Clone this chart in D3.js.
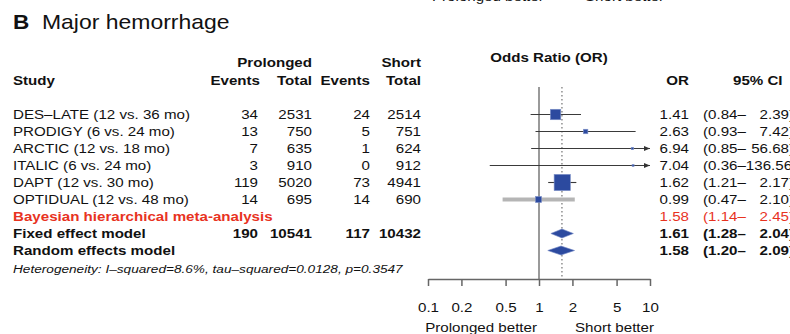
<!DOCTYPE html>
<html>
<head>
<meta charset="utf-8">
<script src="https://cdn.jsdelivr.net/npm/d3@7"></script>
<style>
  html, body { margin: 0; padding: 0; background: #fff; }
  svg { display: block; font-family: "Liberation Sans", Arial, sans-serif; }
</style>
</head>
<body>
<svg id="chart" width="790" height="334"></svg>
<script>
// Major hemorrhage: prolonged vs. short DAPT, per-study odds ratios
const studies = [
  "DES\u2013LATE (12 vs. 36 mo)",
  "PRODIGY (6 vs. 24 mo)",
  "ARCTIC (12 vs. 18 mo)",
  "ITALIC (6 vs. 24 mo)",
  "DAPT (12 vs. 30 mo)",
  "OPTIDUAL (12 vs. 48 mo)"
];
const eventsProlonged = [34, 13, 7, 3, 119, 14];
const totalProlonged  = [2531, 750, 635, 910, 5020, 695];
const eventsShort     = [24, 5, 1, 0, 73, 14];
const totalShort      = [2514, 751, 624, 912, 4941, 690];
const oddsRatio = [1.41, 2.63, 6.94, 7.04, 1.62, 0.99];
const ciLower   = [0.84, 0.93, 0.85, 0.36, 1.21, 0.47];
const ciUpper   = [2.39, 7.42, 56.68, 136.56, 2.17, 2.10];
const weightPct = [24.8, 4.6, 1.3, 0.9, 60.0, 8.4];

const pooledNames = ["Bayesian hierarchical meta-analysis", "Fixed effect model", "Random effects model"];
const pooledOR    = [1.58, 1.61, 1.58];
const pooledLower = [1.14, 1.28, 1.20];
const pooledUpper = [2.45, 2.04, 2.09];
const pooledDiamond = [false, true, true];
const totalsRow = { eventsProlonged: 190, totalProlonged: 10541, eventsShort: 117, totalShort: 10432 };

const axisTicks = [0.1, 0.2, 0.5, 1, 2, 5, 10];
const axisTickLabels = ["0.1", "0.2", "0.5", "1", "2", "5", "10"];
const heterogeneityText = "Heterogeneity: I\u2013squared=8.6%, tau\u2013squared=0.0128, p=0.3547";

// ---- layout ----
const svg = d3.select("#chart");
const FS = 13.5, SX = 1.12;
const RED = "#e8331f", BLUE = "#2c4a9f";
const x = d3.scaleLog().domain([0.1, 10]).range([428, 650]);
const rowY = i => 114.5 + 17 * i;
const plotTop = 87, axisY = 279;
const fmt2 = d3.format(".2f");

function txt(px, py, s, o = {}) {
  const sx = o.sx || SX;
  const t = svg.append("text")
    .attr("transform", `translate(${px},${py}) scale(${sx},1)`)
    .attr("text-anchor", o.anchor || "start")
    .attr("font-size", o.size || FS)
    .attr("font-weight", o.bold ? "bold" : "normal")
    .attr("fill", o.color || "#111")
    .text(s);
  if (o.italic) t.attr("font-style", "italic");
  t.width = () => t.node().getComputedTextLength() * sx;
  return t;
}

// confidence interval text: "(lo–" from a fixed start, "hi)" right-aligned,
// pushed right when the two parts would collide
function ciText(y, lo, hi, o = {}) {
  const left = txt(colCIstart, y, "(" + fmt2(lo) + "\u2013", o);
  const leftEnd = colCIstart + left.width();
  const right = txt(0, y, fmt2(hi) + ")", o);
  const w = right.width();
  const start = Math.max(leftEnd, colCIend - w);
  right.attr("text-anchor", "start")
    .attr("transform", `translate(${start},${y}) scale(${o.sx || SX},1)`);
}

// column right edges
const colEvP = 258, colTotP = 312, colEvS = 370, colTotS = 421;
const colOR = 689, colCIstart = 703, colCIend = 794;
const base = 4.8; // baseline offset from row centre

// remnants of the panel above
txt(432, 0.5, "Prolonged better");
txt(585, 0.5, "Short better");

// title
txt(13, 29, "B", { size: 20.5, bold: true, sx: 1.1 });
txt(42, 29, "Major hemorrhage", { size: 20.5, sx: 1.12 });

// headers
txt(colTotP, 66.5, "Prolonged", { anchor: "end", bold: true });
txt(colTotS, 66.5, "Short", { anchor: "end", bold: true });
txt(13, 84.5, "Study", { bold: true });
txt(colEvP + 2, 84.5, "Events", { anchor: "end", bold: true });
txt(colTotP, 84.5, "Total", { anchor: "end", bold: true });
txt(colEvS, 84.5, "Events", { anchor: "end", bold: true });
txt(colTotS, 84.5, "Total", { anchor: "end", bold: true });
txt(549, 62, "Odds Ratio (OR)", { anchor: "middle", bold: true });
txt(colOR, 84.5, "OR", { anchor: "end", bold: true });
txt(733, 84.5, "95% CI", { bold: true });

// reference lines: no effect (OR = 1) and fixed-effect estimate
svg.append("line")
  .attr("x1", x(1)).attr("x2", x(1))
  .attr("y1", plotTop).attr("y2", axisY)
  .attr("stroke", "#9a9a9a").attr("stroke-width", 2);
svg.append("line")
  .attr("x1", x(pooledOR[1])).attr("x2", x(pooledOR[1]))
  .attr("y1", plotTop).attr("y2", axisY)
  .attr("stroke", "#555").attr("stroke-width", 1).attr("stroke-dasharray", "1.5,2.5");

// study rows
const greyLine = new Set(["OPTIDUAL (12 vs. 48 mo)"]);
const sizeK = 2.1;
studies.forEach((name, i) => {
  const y = rowY(i);
  txt(13, y + base, name);
  txt(colEvP, y + base, eventsProlonged[i], { anchor: "end" });
  txt(colTotP, y + base, totalProlonged[i], { anchor: "end" });
  txt(colEvS, y + base, eventsShort[i], { anchor: "end" });
  txt(colTotS, y + base, totalShort[i], { anchor: "end" });
  txt(colOR, y + base, fmt2(oddsRatio[i]), { anchor: "end" });
  ciText(y + base, ciLower[i], ciUpper[i]);

  const lo = Math.max(ciLower[i], 0.1), hi = Math.min(ciUpper[i], 10);
  const grey = greyLine.has(name);
  svg.append("line")
    .attr("x1", x(lo)).attr("x2", x(hi))
    .attr("y1", y).attr("y2", y)
    .attr("stroke", grey ? "#b5b5b5" : "#3a3a3a")
    .attr("stroke-width", grey ? 4 : 1.1);
  if (ciUpper[i] > 10) {
    const ax = x(10);
    svg.append("path")
      .attr("d", `M${ax - 6},${y - 2.5} L${ax},${y} L${ax - 6},${y + 2.5} Z`)
      .attr("fill", "#333");
  }
  const s = sizeK * Math.sqrt(weightPct[i]);
  svg.append("rect")
    .attr("x", x(oddsRatio[i]) - s / 2).attr("y", y - s / 2)
    .attr("width", s).attr("height", s)
    .attr("fill", BLUE).attr("stroke", "#7f92c8").attr("stroke-width", 0.6);
});

// pooled rows
pooledNames.forEach((name, j) => {
  const y = rowY(6 + j);
  const red = j === 0;
  const col = red ? RED : "#111";
  txt(13, y + base, name, { bold: true, color: col });
  txt(colOR, y + base, fmt2(pooledOR[j]), { anchor: "end", bold: !red, color: col });
  ciText(y + base, pooledLower[j], pooledUpper[j], { bold: !red, color: col });
  if (pooledDiamond[j]) {
    const h = 4.5;
    svg.append("path")
      .attr("d", `M${x(pooledLower[j])},${y} L${x(pooledOR[j])},${y - h} L${x(pooledUpper[j])},${y} L${x(pooledOR[j])},${y + h} Z`)
      .attr("fill", BLUE).attr("stroke", "#6f84c2").attr("stroke-width", 0.6);
  }
});
const fy = rowY(7) + base;
txt(colEvP, fy, totalsRow.eventsProlonged, { anchor: "end", bold: true });
txt(colTotP, fy, totalsRow.totalProlonged, { anchor: "end", bold: true });
txt(colEvS, fy, totalsRow.eventsShort, { anchor: "end", bold: true });
txt(colTotS, fy, totalsRow.totalShort, { anchor: "end", bold: true });

txt(13, 273, heterogeneityText, { size: 11, italic: true, sx: 1.24 });

// log axis
const axis = d3.axisBottom(x)
  .tickValues(axisTicks)
  .tickFormat((d, i) => axisTickLabels[i])
  .tickSize(7)
  .tickSizeOuter(0);
const gAxis = svg.append("g").attr("transform", `translate(0,${axisY})`).call(axis);
gAxis.select(".domain").attr("stroke", "#666").attr("stroke-width", 1.5);
gAxis.selectAll(".tick line").attr("stroke", "#666").attr("stroke-width", 1.5);
gAxis.selectAll(".tick text")
  .attr("font-size", FS).attr("fill", "#111")
  .attr("font-family", "Liberation Sans, Arial, sans-serif")
  .attr("y", 0).attr("dy", 0)
  .attr("transform", `translate(0,32.5) scale(${SX},1)`);

txt(537, 332, "Prolonged better", { anchor: "end" });
txt(575, 332, "Short better");
</script>
</body>
</html>
